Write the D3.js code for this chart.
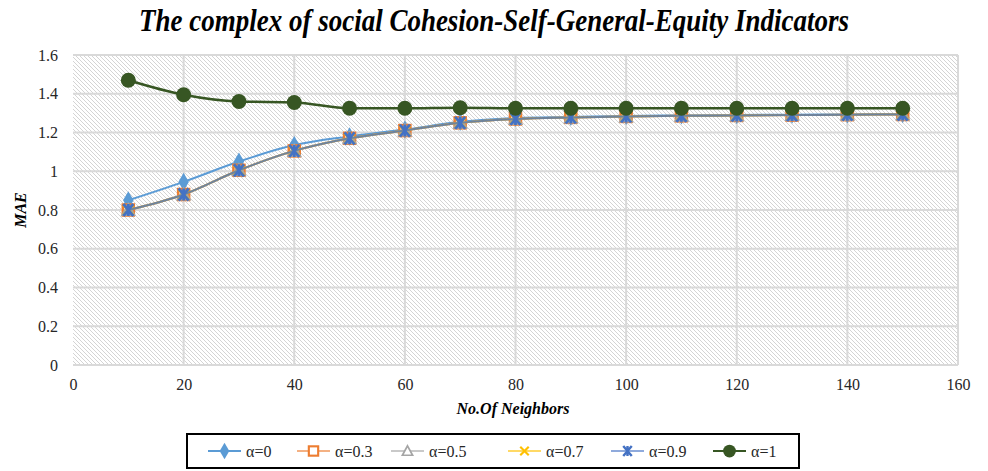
<!DOCTYPE html>
<html>
<head>
<meta charset="utf-8">
<script src="https://cdn.jsdelivr.net/npm/d3@7"></script>
<style>
  html, body { margin: 0; padding: 0; background: #fff; }
  svg { display: block; }
  text { font-family: "Liberation Serif", "Times New Roman", serif; }
</style>
</head>
<body>
<svg id="chart" width="988" height="471"></svg>
<script>
// Number of neighbours (x) and MAE per alpha setting
const neighbors = [10, 20, 30, 40, 50, 60, 70, 80, 90, 100, 110, 120, 130, 140, 150];
const alpha0  = [0.85, 0.945, 1.05, 1.135, 1.18, 1.215, 1.255, 1.275, 1.28, 1.285, 1.288, 1.29, 1.292, 1.293, 1.295];
const alpha03 = [0.80, 0.88, 1.005, 1.105, 1.17, 1.21, 1.25, 1.27, 1.278, 1.283, 1.286, 1.288, 1.29, 1.292, 1.293];
const alpha05 = [0.80, 0.88, 1.005, 1.105, 1.17, 1.21, 1.25, 1.27, 1.278, 1.283, 1.286, 1.288, 1.29, 1.292, 1.293];
const alpha07 = [0.80, 0.88, 1.005, 1.105, 1.17, 1.21, 1.25, 1.27, 1.278, 1.283, 1.286, 1.288, 1.29, 1.292, 1.293];
const alpha09 = [0.80, 0.88, 1.005, 1.105, 1.17, 1.21, 1.25, 1.27, 1.278, 1.283, 1.286, 1.288, 1.29, 1.292, 1.293];
const alpha1  = [1.47, 1.395, 1.36, 1.355, 1.325, 1.325, 1.328, 1.325, 1.325, 1.325, 1.325, 1.325, 1.325, 1.325, 1.325];
const seriesNames = ["α=0", "α=0.3", "α=0.5", "α=0.7", "α=0.9", "α=1"];
const xTicks = [0, 20, 40, 60, 80, 100, 120, 140, 160];
const yTicks = [0, 0.2, 0.4, 0.6, 0.8, 1, 1.2, 1.4, 1.6];

const series = [
  { name: seriesNames[0], values: alpha0,  color: "#5b9bd5", marker: "diamond" },
  { name: seriesNames[1], values: alpha03, color: "#ed7d31", marker: "square" },
  { name: seriesNames[2], values: alpha05, color: "#a5a5a5", marker: "triangle" },
  { name: seriesNames[3], values: alpha07, color: "#ffc000", marker: "cross" },
  { name: seriesNames[4], values: alpha09, color: "#4472c4", marker: "asterisk" },
  { name: seriesNames[5], values: alpha1,  color: "#375623", marker: "circle" }
];

const svg = d3.select("#chart");
const plot = { left: 73, right: 958, top: 55, bottom: 365 };

const x = d3.scaleLinear().domain([0, 160]).range([plot.left, plot.right]);
const y = d3.scaleLinear().domain([0, 1.6]).range([plot.bottom, plot.top]);

// diagonal hatch fill for the plot area
const defs = svg.append("defs");
const pat = defs.append("pattern")
  .attr("id", "hatch").attr("patternUnits", "userSpaceOnUse")
  .attr("width", 4).attr("height", 4);
pat.append("rect").attr("width", 4).attr("height", 4).attr("fill", "#ffffff");
pat.append("path").attr("d", "M-1,-1 L5,5 M-1,3 L1,5 M3,-1 L5,1")
  .attr("stroke", "#d4d4d4").attr("stroke-width", 1);

svg.append("rect")
  .attr("x", plot.left).attr("y", plot.top)
  .attr("width", plot.right - plot.left).attr("height", plot.bottom - plot.top)
  .attr("fill", "url(#hatch)");

// gridlines
const grid = svg.append("g").attr("stroke", "#d9d9d9").attr("stroke-width", 2);
grid.selectAll("line.h").data(yTicks).join("line")
  .attr("x1", plot.left).attr("x2", plot.right)
  .attr("y1", d => y(d)).attr("y2", d => y(d));
grid.selectAll("line.v").data(xTicks.filter(d => d > 0)).join("line")
  .attr("x1", d => x(d)).attr("x2", d => x(d))
  .attr("y1", plot.top).attr("y2", plot.bottom);

// axes (labels only)
const yAxis = svg.append("g").attr("transform", `translate(${plot.left},0)`)
  .call(d3.axisLeft(y).tickValues(yTicks).tickSize(0).tickPadding(15).tickFormat(d3.format("~g")));
const xAxis = svg.append("g").attr("transform", `translate(0,${plot.bottom})`)
  .call(d3.axisBottom(x).tickValues(xTicks).tickSize(0).tickPadding(14).tickFormat(d3.format("d")));
[yAxis, xAxis].forEach(a => {
  a.select(".domain").remove();
  a.selectAll("text").attr("font-family", "Liberation Serif").attr("font-size", 16).attr("fill", "#262626");
});

// title and axis titles
svg.append("text").attr("transform", "translate(494,31) scale(1,1.15)").attr("text-anchor", "middle")
  .attr("font-size", 27).attr("font-weight", "bold").attr("font-style", "italic").attr("fill", "#000")
  .text("The complex of social Cohesion-Self-General-Equity Indicators");
svg.append("text").attr("x", 513).attr("y", 414).attr("text-anchor", "middle")
  .attr("font-size", 16).attr("font-weight", "bold").attr("font-style", "italic").attr("fill", "#000")
  .text("No.Of Neighbors");
svg.append("text").attr("transform", "translate(26,210) rotate(-90)").attr("text-anchor", "middle")
  .attr("font-size", 16).attr("font-weight", "bold").attr("font-style", "italic").attr("fill", "#000")
  .text("MAE");

// marker drawing
function drawMarker(g, type, color, s) {
  if (type === "diamond") {
    g.append("path").attr("d", d3.symbol(d3.symbolDiamond, 95 * s)()).attr("fill", color);
  } else if (type === "square") {
    g.append("rect").attr("x", -5.5 * s).attr("y", -5.5 * s).attr("width", 11 * s).attr("height", 11 * s)
      .attr("fill", "#fff").attr("stroke", color).attr("stroke-width", 2.5 * s);
  } else if (type === "triangle") {
    g.append("path").attr("d", `M0,${-6*s} L${6*s},${5*s} L${-6*s},${5*s} Z`)
      .attr("fill", "#fff").attr("stroke", color).attr("stroke-width", 2 * s);
  } else if (type === "cross") {
    g.append("path").attr("d", `M${-5*s},${-5*s} L${5*s},${5*s} M${5*s},${-5*s} L${-5*s},${5*s}`)
      .attr("stroke", color).attr("stroke-width", 2.5 * s);
  } else if (type === "asterisk") {
    g.append("path").attr("d", `M${-5*s},${-6*s} L${5*s},${6*s} M${5*s},${-6*s} L${-5*s},${6*s} M0,${-6*s} L0,${6*s}`)
      .attr("stroke", color).attr("stroke-width", 2.8 * s);
  } else if (type === "circle") {
    g.append("circle").attr("r", 7.5 * s).attr("fill", color);
  }
}

const line = d3.line().x(d => x(d[0])).y(d => y(d[1])).curve(d3.curveMonotoneX);

const marks = svg.append("g");
series.forEach((s, i) => {
  const pts = neighbors.map((n, j) => [n, s.values[j]]);
  marks.append("path").datum(pts).attr("d", line)
    .attr("fill", "none").attr("stroke", s.color)
    .attr("stroke-width", i === 5 ? 2.5 : 2)
    .attr("stroke-opacity", (i >= 1 && i <= 4) ? 0.75 : 1);
  pts.forEach(p => {
    const g = marks.append("g").attr("transform", `translate(${x(p[0])},${y(p[1])})`);
    drawMarker(g, s.marker, s.color, 1);
  });
});

// legend
const lg = svg.append("g");
lg.append("rect").attr("x", 187).attr("y", 434).attr("width", 612).attr("height", 34)
  .attr("fill", "#fff").attr("stroke", "#000").attr("stroke-width", 2);
const legendX = [208, 297, 391, 508, 611, 713];
series.forEach((s, i) => {
  const x0 = legendX[i];
  const g = lg.append("g").attr("transform", `translate(${x0},451)`);
  g.append("line").attr("x1", 0).attr("x2", 33).attr("stroke", s.color)
    .attr("stroke-width", 2).attr("stroke-opacity", (i >= 1 && i <= 4) ? 0.6 : 1);
  const m = g.append("g").attr("transform", "translate(16.5,0)");
  drawMarker(m, s.marker, s.color, 0.85);
  g.append("text").attr("x", 38).attr("y", 6).attr("font-size", 16).attr("fill", "#262626").text(s.name);
});
</script>
</body>
</html>
